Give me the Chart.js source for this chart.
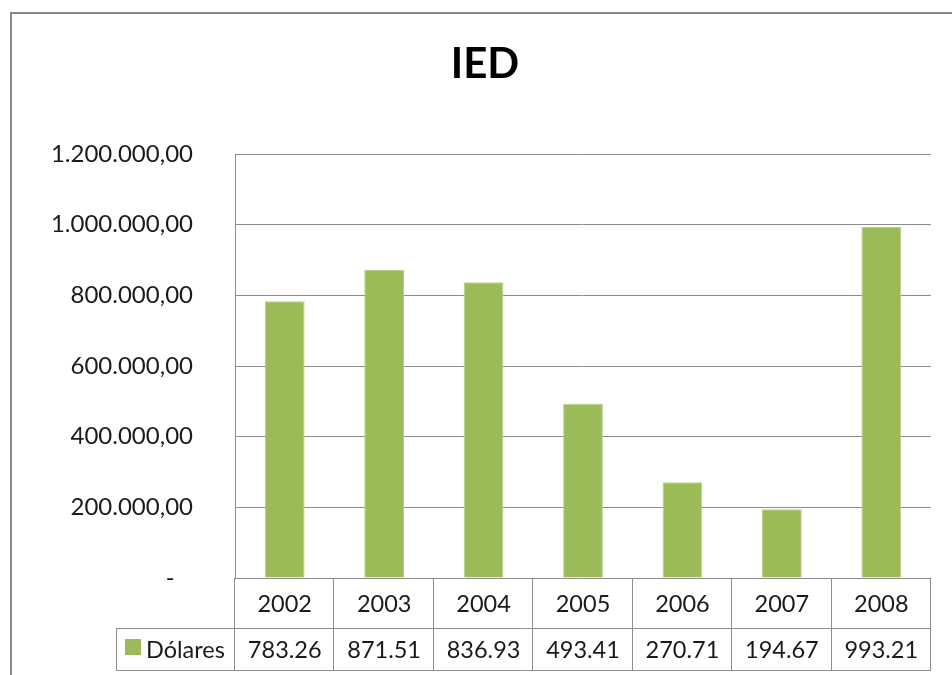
<!DOCTYPE html>
<html>
<head>
<meta charset="utf-8">
<script src="https://cdn.jsdelivr.net/npm/chart.js@4"></script>
<style>
  html, body { margin: 0; padding: 0; background: #fff; overflow: hidden; }
  #wrap { position: relative; width: 952px; height: 675px; }
  #frame {
    position: absolute; left: 10px; top: 12px; width: 1000px; height: 700px;
    border-left: 2px solid #878787; border-top: 2px solid #878787;
  }
  canvas { position: absolute; left: 0; top: 0; }
</style>
</head>
<body>
<div id="wrap">
  <div id="frame"></div>
  <canvas id="iedChart" width="952" height="675"></canvas>
</div>
<script>
// --- data ---
const TITLE = 'IED';
const SERIES_NAME = 'Dólares';
const years = ['2002', '2003', '2004', '2005', '2006', '2007', '2008'];
const dollars = [783260, 871510, 836930, 493410, 270710, 194670, 993210];
const tableLabels = ['783.26', '871.51', '836.93', '493.41', '270.71', '194.67', '993.21'];
const yTicks = [0, 200000, 400000, 600000, 800000, 1000000, 1200000];

const GREEN = '#9BBB59';
const GRID = '#8c8c8c';
const TEXT = '#1a1a1a';
const FONT = 'Lato, "Open Sans", sans-serif';

// Excel-style accounting format: zero shows as a dash
function formatEs(v) {
    if (v === 0) return '-   ';
    const parts = v.toFixed(2).split('.');
    return parts[0].replace(/\B(?=(\d{3})+(?!\d))/g, '.') + ',' + parts[1];
}

// title drawn above the plot
const titlePlugin = {
    id: 'excelTitle',
    afterDraw(chart) {
        const ctx = chart.ctx;
        ctx.save();
        ctx.fillStyle = '#000';
        ctx.font = 'bold 42px ' + FONT;
        ctx.textAlign = 'center';
        ctx.textBaseline = 'middle';
        ctx.fillText(TITLE, 485, 64);
        ctx.restore();
    }
};

// data table under the plot (years row + values row)
const tablePlugin = {
    id: 'dataTable',
    afterDraw(chart) {
        const ctx = chart.ctx;
        const xs = chart.scales.x;
        const area = chart.chartArea;
        const step = (area.right - area.left) / years.length;
        const row1Top = area.bottom, row1Bot = area.bottom + 50, row2Bot = area.bottom + 92;
        const headLeft = 116;

        ctx.save();
        ctx.strokeStyle = GRID;
        ctx.lineWidth = 1;
        ctx.beginPath();
        // horizontal lines
        ctx.moveTo(headLeft, row1Bot + 0.5); ctx.lineTo(area.right, row1Bot + 0.5);
        ctx.moveTo(headLeft, row2Bot + 0.5); ctx.lineTo(area.right, row2Bot + 0.5);
        // vertical lines
        for (let i = 0; i <= years.length; i++) {
            const x = Math.round(area.left + i * step) - 0.5;
            ctx.moveTo(x, row1Top); ctx.lineTo(x, row2Bot + 1);
        }
        ctx.moveTo(headLeft + 0.5, row1Bot); ctx.lineTo(headLeft + 0.5, row2Bot + 1);
        ctx.stroke();

        ctx.fillStyle = TEXT;
        ctx.font = '23.5px ' + FONT;
        ctx.textAlign = 'center';
        ctx.textBaseline = 'middle';
        years.forEach((y, i) => {
            const cx = xs.getPixelForValue(i);
            ctx.fillText(y, cx, (row1Top + row1Bot) / 2 + 1);
            ctx.fillText(tableLabels[i], cx, (row1Bot + row2Bot) / 2 + 1);
        });

        // legend key
        ctx.fillStyle = GREEN;
        ctx.fillRect(125, 639, 16, 16);
        ctx.fillStyle = TEXT;
        ctx.textAlign = 'left';
        ctx.fillText(SERIES_NAME, 146, (row1Bot + row2Bot) / 2 + 1);
        ctx.restore();
    }
};

new Chart(document.getElementById('iedChart'), {
    type: 'bar',
    data: {
        labels: years,
        datasets: [{
            label: SERIES_NAME,
            data: dollars,
            backgroundColor: GREEN,
            borderColor: '#b5cf86',
            borderWidth: 1,
            barPercentage: 0.4,
            categoryPercentage: 1.0
        }]
    },
    options: {
        responsive: false,
        animation: false,
        devicePixelRatio: 1,
        layout: { padding: { top: 154, bottom: 97, right: 21, left: 0 } },
        plugins: {
            legend: { display: false },
            title: { display: false },
            tooltip: { enabled: false }
        },
        scales: {
            x: {
                display: false,
                offset: true
            },
            y: {
                min: 0,
                max: 1200000,
                afterBuildTicks(scale) {
                    scale.ticks = yTicks.map(v => ({ value: v }));
                },
                afterFit(scale) { scale.width = 235; },
                ticks: {
                    padding: 42,
                    color: TEXT,
                    font: { family: FONT, size: 24 },
                    callback: v => formatEs(v)
                },
                grid: { color: GRID, drawTicks: false },
                border: { display: true, color: GRID }
            }
        }
    },
    plugins: [titlePlugin, tablePlugin]
});
</script>
</body>
</html>
